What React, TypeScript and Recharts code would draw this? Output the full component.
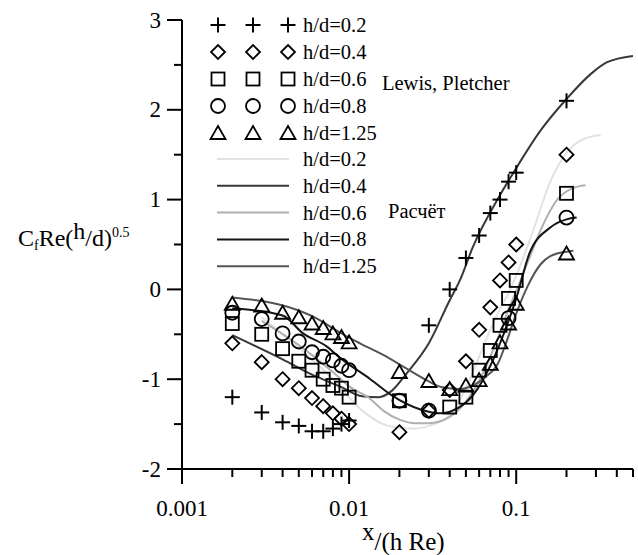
import React from 'react';
import { ComposedChart, Line, Scatter, XAxis, YAxis, Customized } from 'recharts';

const FONT = 'Liberation Serif';
const TS: React.CSSProperties = { fontFamily: FONT };

// ---- axis ticks ----
const xTicks = [
  0.001, 0.002, 0.003, 0.004, 0.005, 0.006, 0.007, 0.008, 0.009,
  0.01, 0.02, 0.03, 0.04, 0.05, 0.06, 0.07, 0.08, 0.09,
  0.1, 0.2, 0.3, 0.4, 0.5,
];
const xMajorTicks = [0.001, 0.01, 0.1];
const xTickLabels = ['0.001', '0.01', '0.1'];
const yTicks = [-2, -1.5, -1, -0.5, 0, 0.5, 1, 1.5, 2, 2.5, 3];
const yMajorTicks = [-2, -1, 0, 1, 2, 3];
const yTickLabels = ['-2', '-1', '0', '1', '2', '3'];

// ---- experimental data (Lewis, Pletcher) ----
const xsSmall = [0.002, 0.003, 0.004, 0.005, 0.006, 0.007, 0.008, 0.009, 0.01];

const plusX = [...xsSmall, 0.03, 0.04, 0.05, 0.06, 0.07, 0.08, 0.09, 0.1, 0.2];
const plusY = [-1.2, -1.37, -1.48, -1.52, -1.58, -1.58, -1.55, -1.5, -1.46, -0.4, 0.0, 0.35, 0.6, 0.85, 1.0, 1.2, 1.3, 2.1];

const diamondX = [...xsSmall, 0.02, 0.03, 0.04, 0.05, 0.06, 0.07, 0.08, 0.09, 0.1, 0.2];
const diamondY = [-0.6, -0.81, -1.0, -1.1, -1.21, -1.3, -1.38, -1.44, -1.5, -1.59, -1.35, -1.12, -0.8, -0.45, -0.2, 0.1, 0.3, 0.5, 1.5];

const squareX = [...xsSmall, 0.02, 0.04, 0.05, 0.06, 0.07, 0.08, 0.09, 0.1, 0.2];
const squareY = [-0.38, -0.5, -0.66, -0.8, -0.9, -1.0, -1.07, -1.1, -1.2, -1.24, -1.31, -1.2, -0.9, -0.68, -0.4, -0.1, 0.1, 1.07];

const circleX = [...xsSmall, 0.02, 0.03, 0.09, 0.2];
const circleY = [-0.26, -0.33, -0.49, -0.58, -0.7, -0.75, -0.79, -0.85, -0.9, -1.24, -1.35, -0.32, 0.8];

const triangleX = [...xsSmall, 0.02, 0.03, 0.04, 0.05, 0.06, 0.07, 0.08, 0.09, 0.1, 0.2];
const triangleY = [-0.16, -0.18, -0.26, -0.31, -0.38, -0.43, -0.49, -0.53, -0.59, -0.92, -1.02, -1.11, -1.07, -1.01, -0.83, -0.59, -0.38, -0.16, 0.4];

// ---- calculated curves (Расчёт) ----
const calc02X = [0.003, 0.005, 0.008, 0.012, 0.016, 0.02, 0.025, 0.03, 0.04, 0.05, 0.06, 0.07, 0.08, 0.09, 0.1, 0.126, 0.16, 0.2, 0.25, 0.32];
const calc02Y = [-0.31, -0.65, -1.0, -1.35, -1.5, -1.54, -1.55, -1.52, -1.4, -1.1, -0.75, -0.45, -0.22, -0.04, 0.15, 0.65, 1.2, 1.52, 1.67, 1.72];

const calc04X = [0.002, 0.004, 0.006, 0.0088, 0.012, 0.015, 0.018, 0.022, 0.03, 0.04, 0.046, 0.055, 0.08, 0.1, 0.14, 0.2, 0.28, 0.35, 0.5];
const calc04Y = [-0.51, -0.78, -0.95, -1.08, -1.19, -1.2, -1.13, -0.94, -0.6, -0.12, 0.1, 0.47, 1.05, 1.35, 1.77, 2.12, 2.4, 2.53, 2.6];

const calc06X = [0.003, 0.005, 0.008, 0.01, 0.0134, 0.016, 0.02, 0.025, 0.03, 0.04, 0.05, 0.06, 0.07, 0.08, 0.09, 0.1, 0.12, 0.14, 0.176, 0.22, 0.26];
const calc06Y = [-0.35, -0.62, -0.92, -1.08, -1.22, -1.35, -1.45, -1.49, -1.49, -1.42, -1.25, -1.02, -0.75, -0.48, -0.22, -0.02, 0.35, 0.66, 1.0, 1.13, 1.16];

const calc08X = [0.002, 0.004, 0.0053, 0.0074, 0.0088, 0.0134, 0.018, 0.027, 0.035, 0.045, 0.055, 0.07, 0.08, 0.09, 0.1, 0.12, 0.16, 0.2, 0.23];
const calc08Y = [-0.21, -0.29, -0.49, -0.64, -0.76, -1.0, -1.18, -1.34, -1.38, -1.32, -1.18, -0.85, -0.6, -0.35, -0.1, 0.4, 0.69, 0.78, 0.8];

const calc125X = [0.002, 0.0049, 0.0065, 0.0088, 0.0116, 0.016, 0.022, 0.029, 0.036, 0.046, 0.055, 0.065, 0.078, 0.088, 0.1, 0.116, 0.14, 0.16, 0.2, 0.22];
const calc125Y = [-0.09, -0.23, -0.33, -0.48, -0.6, -0.73, -0.88, -1.01, -1.09, -1.11, -1.07, -0.98, -0.82, -0.57, -0.27, 0.02, 0.28, 0.37, 0.42, 0.43];

const legendLabels = ['h/d=0.2', 'h/d=0.4', 'h/d=0.6', 'h/d=0.8', 'h/d=1.25'];
const lineColors = ['#e2e2e2', '#383838', '#b0b0b0', '#151515', '#555555'];

const zip = (xs: number[], ys: number[]) => xs.map((x, i) => ({ x, y: ys[i] }));

const plusData = zip(plusX, plusY);
const diamondData = zip(diamondX, diamondY);
const squareData = zip(squareX, squareY);
const circleData = zip(circleX, circleY);
const triangleData = zip(triangleX, triangleY);

const calcData = [
  zip(calc02X, calc02Y),
  zip(calc04X, calc04Y),
  zip(calc06X, calc06Y),
  zip(calc08X, calc08Y),
  zip(calc125X, calc125Y),
];

// ---- markers ----
const SW = 1.8;
const drawMarker = (kind: string, cx: number, cy: number, key?: any) => {
  switch (kind) {
    case 'plus':
      return (
        <g key={key} stroke="#000" strokeWidth={2}>
          <line x1={cx - 7.5} x2={cx + 7.5} y1={cy} y2={cy} />
          <line x1={cx} x2={cx} y1={cy - 7.5} y2={cy + 7.5} />
        </g>
      );
    case 'diamond':
      return (
        <polygon key={key} points={`${cx},${cy - 7} ${cx + 7},${cy} ${cx},${cy + 7} ${cx - 7},${cy}`} fill="none" stroke="#000" strokeWidth={SW} />
      );
    case 'square':
      return <rect key={key} x={cx - 6.5} y={cy - 6.5} width={13} height={13} fill="none" stroke="#000" strokeWidth={SW} />;
    case 'circle':
      return <circle key={key} cx={cx} cy={cy} r={7} fill="none" stroke="#000" strokeWidth={SW} />;
    default:
      return (
        <polygon key={key} points={`${cx},${cy - 7} ${cx + 7.5},${cy + 6} ${cx - 7.5},${cy + 6}`} fill="none" stroke="#000" strokeWidth={SW} />
      );
  }
};
const markerKinds = ['plus', 'diamond', 'square', 'circle', 'triangle'];
const shapeOf = (kind: string) => (p: any) => drawMarker(kind, p.cx, p.cy);

// ---- ticks ----
const XTick = (p: any) => {
  const { x, y, payload } = p;
  const v = payload.value;
  const mi = xMajorTicks.indexOf(v);
  const major = mi >= 0;
  return (
    <g>
      <line x1={x} x2={x} y1={y} y2={y + (major ? 15 : 8)} stroke="#000" strokeWidth={2} />
      {major && (
        <text x={x} y={y + 47} textAnchor="middle" fontSize={23} style={TS} fill="#000">
          {xTickLabels[mi]}
        </text>
      )}
    </g>
  );
};

const YTick = (p: any) => {
  const { x, y, payload } = p;
  const v = payload.value;
  const mi = yMajorTicks.indexOf(v);
  const major = mi >= 0;
  return (
    <g>
      <line x1={x - (major ? 15 : 8)} x2={x} y1={y} y2={y} stroke="#000" strokeWidth={2} />
      {major && (
        <text x={x - 21} y={y + 7.5} textAnchor="end" fontSize={23} style={TS} fill="#000">
          {yTickLabels[mi]}
        </text>
      )}
    </g>
  );
};

// ---- overlay: legend, annotations, axis titles ----
const Overlay = () => {
  const rowY0 = 25;
  const rowStep = 27;
  const symX = [218, 253, 288];
  return (
    <g style={TS} fill="#000">
      {markerKinds.map((k, i) => (
        <g key={k}>
          {symX.map((sx, j) => drawMarker(k, sx, rowY0 + i * rowStep, j))}
          <text x={303} y={rowY0 + i * rowStep + 7} fontSize={20.5} style={TS}>{legendLabels[i]}</text>
        </g>
      ))}
      {lineColors.map((c, i) => {
        const yy = 159 + i * 26.8;
        return (
          <g key={c + i}>
            <line x1={217} x2={289} y1={yy} y2={yy} stroke={c} strokeWidth={2} />
            <text x={303} y={yy + 7} fontSize={20.5} style={TS}>{legendLabels[i]}</text>
          </g>
        );
      })}
      <text x={382} y={90} fontSize={20.5} style={TS}>Lewis, Pletcher</text>
      <text x={388} y={218} fontSize={20.5} style={TS}>Расчёт</text>
      <text x={18} y={246} fontSize={24} style={TS}>
        C<tspan fontSize={14} dy={4}>f</tspan>
        <tspan fontSize={24} dy={-4}>Re(</tspan>
        <tspan dy={-7}>h</tspan>
        <tspan dy={7}>/d)</tspan>
        <tspan fontSize={14} dy={-9}>0.5</tspan>
      </text>
      <text x={362} y={550} fontSize={25} style={TS}>
        <tspan dy={-10}>x</tspan>
        <tspan dy={10}>/(h Re)</tspan>
      </text>
    </g>
  );
};

export default function App() {
  return (
    <div style={{ position: 'absolute', left: 0, top: 0, width: 638, height: 555, background: '#fff', fontFamily: FONT }}>
      <ComposedChart width={638} height={555} margin={{ top: 20, right: 5, bottom: 0, left: 0 }} style={TS}>
        <XAxis
          dataKey="x"
          type="number"
          scale="log"
          domain={[0.001, 0.5]}
          allowDataOverflow
          ticks={xTicks}
          interval={0}
          height={86}
          tickSize={0}
          tickMargin={0}
          tickLine={false}
          axisLine={{ stroke: '#000', strokeWidth: 2 }}
          tick={<XTick />}
        />
        <YAxis
          type="number"
          domain={[-2, 3]}
          allowDataOverflow
          ticks={yTicks}
          interval={0}
          width={182}
          tickSize={0}
          tickMargin={0}
          tickLine={false}
          axisLine={{ stroke: '#000', strokeWidth: 2 }}
          tick={<YTick />}
        />
        {calcData.map((d, i) => (
          <Line
            key={'calc' + i}
            data={d}
            dataKey="y"
            type="monotone"
            stroke={lineColors[i]}
            strokeWidth={2}
            dot={false}
            activeDot={false}
            isAnimationActive={false}
          />
        ))}
        <Scatter data={plusData} dataKey="y" shape={shapeOf('plus')} isAnimationActive={false} />
        <Scatter data={diamondData} dataKey="y" shape={shapeOf('diamond')} isAnimationActive={false} />
        <Scatter data={squareData} dataKey="y" shape={shapeOf('square')} isAnimationActive={false} />
        <Scatter data={circleData} dataKey="y" shape={shapeOf('circle')} isAnimationActive={false} />
        <Scatter data={triangleData} dataKey="y" shape={shapeOf('triangle')} isAnimationActive={false} />
        <Customized component={Overlay} />
      </ComposedChart>
    </div>
  );
}
